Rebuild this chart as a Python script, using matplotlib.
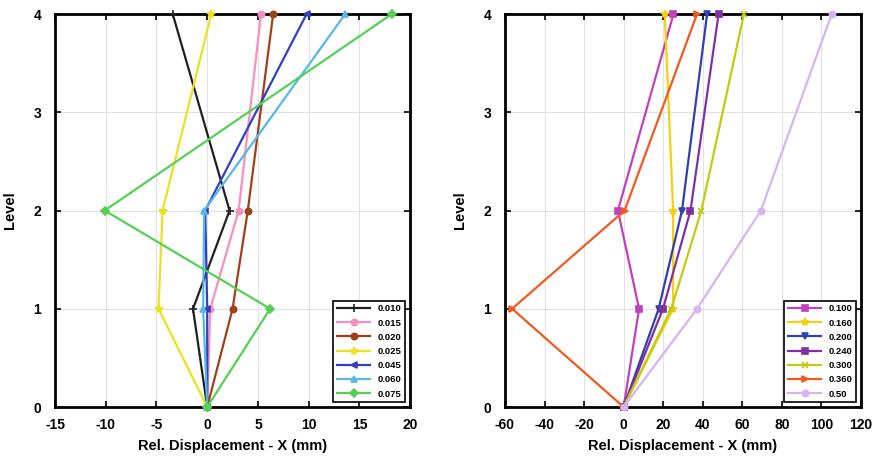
import numpy as np
import matplotlib
matplotlib.use('Agg')
import matplotlib.pyplot as plt

plt.rcParams['font.family'] = ['Liberation Sans', 'DejaVu Sans']
plt.rcParams['font.weight'] = 'bold'
plt.rcParams['axes.unicode_minus'] = False

levels = [0, 1, 2, 3, 4]
ylevels = [0, 1, 2, 4]

# left panel: displacement at levels 0, 1, 2, 4
left_labels = ['0.010', '0.015', '0.020', '0.025', '0.045', '0.060', '0.075']
left_vals = [
    [0, -1.4, 2.2, -3.4],
    [0, 0.3, 3.1, 5.3],
    [0, 2.5, 4.0, 6.5],
    [0, -4.8, -4.4, 0.4],
    [0, 0.0, -0.2, 9.8],
    [0, -0.4, -0.3, 13.6],
    [0, 6.2, -10.1, 18.2],
]
left_colors = ['#202020', '#f590c0', '#a0401a', '#eee020', '#3040c0', '#55b8e6', '#55d055']
left_markers = ['+', 'o', 'o', '*', '<', '^', 'D']

right_labels = ['0.100', '0.160', '0.200', '0.240', '0.300', '0.360', '0.50']
right_vals = [
    [0, 7.8, -2.9, 25.2],
    [0, 25.0, 25.0, 20.8],
    [0, 17.7, 29.5, 42.2],
    [0, 19.9, 33.8, 48.0],
    [0, 24.1, 39.3, 60.8],
    [0, -56.4, 0.5, 37.1],
    [0, 37.1, 69.4, 105.2],
]
right_colors = ['#c040c0', '#f5d010', '#3040b0', '#8030a0', '#c0cc10', '#f05a20', '#d4b4f4']
right_markers = ['s', '*', 'v', 's', 'x', '>', 'o']

fig = plt.figure(figsize=(8.79, 4.66), dpi=100)
ax1 = fig.add_axes([0.0626, 0.1266, 0.404, 0.8433])
ax2 = fig.add_axes([0.5745, 0.1266, 0.405, 0.8433])


def draw(ax, labels, vals, colors, markers, xlim, xticks):
    for lab, v, c, m in zip(labels, vals, colors, markers):
        ms = 6 if m in ('*', '+') else 4.5
        ax.plot(v, ylevels, color=c, marker=m, markersize=ms, lw=1.6,
                markeredgewidth=1.2, label=lab, clip_on=False, zorder=3)
    ax.set_xlim(*xlim)
    ax.set_ylim(0, 4)
    ax.set_xticks(xticks)
    ax.set_yticks(levels)
    ax.grid(True, color='#e2e2e2', lw=0.8)
    ax.set_axisbelow(True)
    ax.tick_params(direction='in', top=True, right=True, length=4, width=1.2,
                   labelsize=10)
    ax.tick_params(axis='x', pad=8)
    ax.tick_params(axis='y', pad=10)
    for s in ax.spines.values():
        s.set_linewidth(2)
    ax.set_xlabel('Rel. Displacement - X (mm)', fontsize=10.5, fontweight='bold',
                  labelpad=5)
    ax.set_ylabel('Level', fontsize=10.5, fontweight='bold', labelpad=12)
    leg = ax.legend(loc='lower right', fontsize=6.8, fancybox=False,
                    edgecolor='black', framealpha=1, handlelength=3.5,
                    borderpad=0.4, labelspacing=0.55)
    leg.get_frame().set_linewidth(1.2)


draw(ax1, left_labels, left_vals, left_colors, left_markers, (-15, 20),
     np.arange(-15, 21, 5))
draw(ax2, right_labels, right_vals, right_colors, right_markers, (-60, 120),
     np.arange(-60, 121, 20))

fig.savefig('out.png', dpi=100)
